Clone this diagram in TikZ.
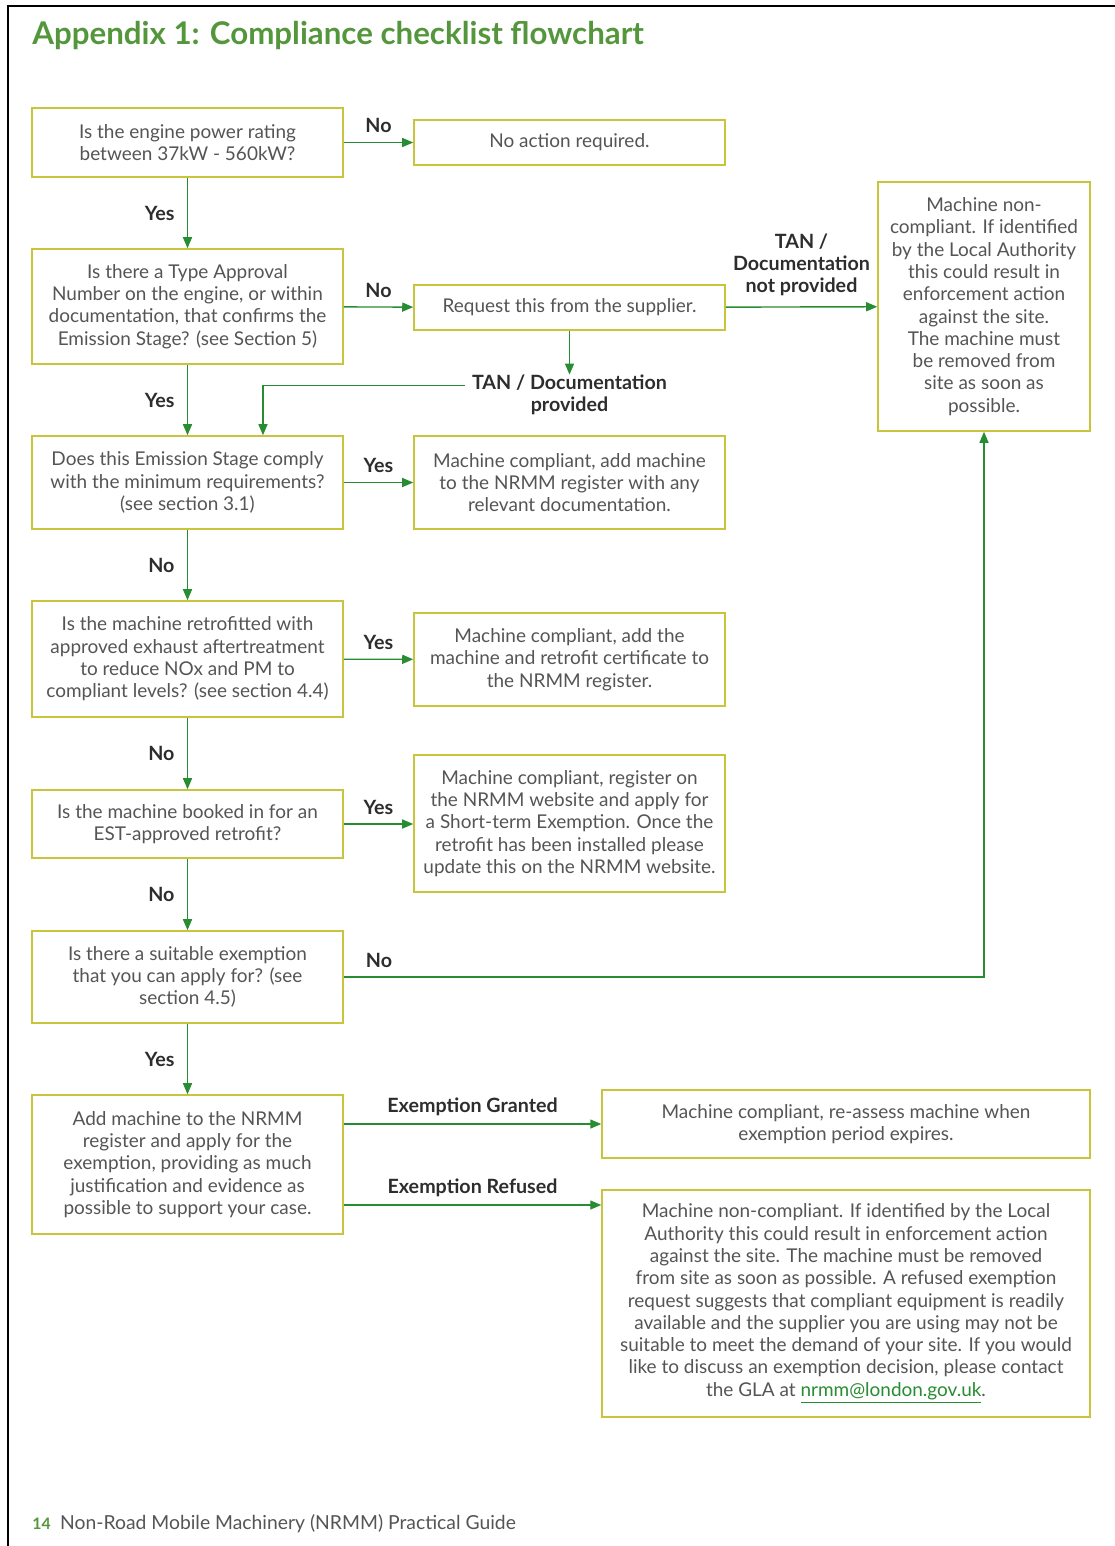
\documentclass[tikz,border=0pt]{standalone}
\usepackage{fontspec}
\setmainfont{Lato}
\usetikzlibrary{arrows.meta,calc,positioning}
\definecolor{titlegreen}{RGB}{84,150,60}
\definecolor{arrowgreen}{RGB}{40,140,50}
\definecolor{boxline}{RGB}{200,196,60}
\definecolor{boxtext}{RGB}{85,85,85}
\definecolor{labeltext}{RGB}{45,45,45}
\newcommand{\boxfont}{\fontsize{10.8}{12.7}\selectfont}

\begin{document}
\begin{tikzpicture}[x=0.02cm,y=-0.02cm,
  every node/.style={inner sep=0pt},
  qbox/.style={draw=boxline,line width=0.9pt,fill=white,align=center,text=boxtext,
    font=\boxfont,minimum width=6.22cm},
  wbox/.style={qbox,minimum width=9.76cm},
  arr/.style={draw=arrowgreen,line width=0.8pt,-{Triangle[length=2.2mm,width=1.8mm]}},
  lbl/.style={font=\fontsize{11.2}{12.6}\selectfont\bfseries,text=labeltext,align=center}]
\useasboundingbox (0,0) rectangle (1115,1546);
% page frame
\draw[line width=1.2pt] (8,1546) -- (8,6) -- (1115,6);
\node[anchor=west,text=titlegreen,font=\fontsize{17.8}{19}\selectfont\bfseries] (title) at (32,35)
  {Appendix 1: Compliance checklist flowchart};

% left column
\node[qbox,minimum height=1.38cm] (power) at (187.5,142.5)
  {Is the engine power rating\\between 37kW - 560kW?};
\node[qbox,minimum height=2.3cm] (tan) at (187.5,306.5)
  {Is there a Type Approval\\Number on the engine, or within\\documentation, that confirms the\\Emission Stage? (see Section 5)};
\node[qbox,minimum height=1.86cm] (stage) at (187.5,482.5)
  {Does this Emission Stage comply\\with the minimum requirements?\\(see section 3.1)};
\node[qbox,minimum height=2.32cm] (retro) at (187.5,659)
  {Is the machine retrofitted with\\approved exhaust aftertreatment\\to reduce NOx and PM to\\compliant levels? (see section 4.4)};
\node[qbox,minimum height=1.36cm] (booked) at (187.5,824)
  {Is the machine booked in for an\\EST-approved retrofit?};
\node[qbox,minimum height=1.84cm] (exempt) at (187.5,977)
  {Is there a suitable exemption\\that you can apply for? (see\\section 4.5)};
\node[qbox,minimum height=2.78cm] (apply) at (187.5,1164.5)
  {Add machine to the NRMM\\register and apply for the\\exemption, providing as much\\justification and evidence as\\possible to support your case.};

% middle column
\node[qbox,minimum height=0.9cm] (noaction) at (569.5,142.5) {No action required.};
\node[qbox,minimum height=0.9cm] (request) at (569.5,307.5) {Request this from the supplier.};
\node[qbox,minimum height=1.86cm] (ok1) at (569.5,482.5)
  {Machine compliant, add machine\\to the NRMM register with any\\relevant documentation.};
\node[qbox,minimum height=1.86cm] (ok2) at (569.5,659.5)
  {Machine compliant, add the\\machine and retrofit certificate to\\the NRMM register.};
\node[qbox,minimum height=2.74cm] (ok3) at (569.5,823.5)
  {Machine compliant, register on\\the NRMM website and apply for\\a Short-term Exemption. Once the\\retrofit has been installed please\\update this on the NRMM website.};

% right column
\node[qbox,minimum width=4.24cm,minimum height=4.98cm] (noncomp) at (984,306.5)
  {Machine non-\\compliant. If identified\\by the Local Authority\\this could result in\\enforcement action\\against the site.\\The machine must\\be removed from\\site as soon as\\possible.};
\node[wbox,minimum height=1.36cm] (granted) at (846,1124)
  {Machine compliant, re-assess machine when\\exemption period expires.};
\node[wbox,minimum height=4.54cm] (refused) at (846,1303.5)
  {Machine non-compliant. If identified by the Local\\Authority this could result in enforcement action\\against the site. The machine must be removed\\from site as soon as possible. A refused exemption\\request suggests that compliant equipment is readily\\available and the supplier you are using may not be\\suitable to meet the demand of your site. If you would\\like to discuss an exemption decision, please contact\\the GLA at \textcolor{arrowgreen}{\underline{nrmm@london.gov.uk}}.};

\node[lbl] (tanok) at (569.5,395) {TAN / Documentation\\provided};

% connectors
\draw[arr] (power) -- node[lbl,above=5pt] {No} (noaction);
\draw[arr] (power) -- node[lbl,left=7pt] {Yes} (tan);
\draw[arr] (tan) -- node[lbl,above=5pt] {No} (request);
\draw[arr] (request) -- node[lbl,above=6pt] {TAN /\\Documentation\\not provided} (noncomp);
\draw[arr] (request.south) -- (request.south |- tanok.north);
\draw[arr] ([xshift=-4pt,yshift=5.5pt]tanok.west) -| ([xshift=1.51cm]stage.north);
\draw[arr] (tan) -- node[lbl,left=7pt] {Yes} (stage);
\draw[arr] (stage) -- node[lbl,above=5pt] {Yes} (ok1);
\draw[arr] (stage) -- node[lbl,left=7pt] {No} (retro);
\draw[arr] (retro) -- node[lbl,above=5pt] {Yes} (ok2);
\draw[arr] (retro) -- node[lbl,left=7pt] {No} (booked);
\draw[arr] (booked) -- node[lbl,above=5pt] {Yes} (booked -| ok3.west);
\draw[arr] (booked) -- node[lbl,left=7pt] {No} (exempt);
\draw[arr] (exempt.east) -- node[lbl,above=5pt,pos=0.055] {No} (exempt.east -| noncomp.south) -- (noncomp.south);
\draw[arr] (exempt) -- node[lbl,left=7pt] {Yes} (apply);
\draw[arr] ([yshift=0.81cm]apply.east) -- node[lbl,above=4pt] {Exemption Granted} ([yshift=0.81cm]apply.east -| granted.west);
\draw[arr] ([yshift=-0.81cm]apply.east) -- node[lbl,above=4pt] {Exemption Refused} ([yshift=-0.81cm]apply.east -| refused.west);

% footer
\node[anchor=west,text=titlegreen,font=\fontsize{9}{10}\selectfont\bfseries] (pagenum) at (32,1524) {14};
\node[anchor=west,text=boxtext,font=\fontsize{11}{12}\selectfont,right=5pt of pagenum] (guide)
  {Non-Road Mobile Machinery (NRMM) Practical Guide};
\end{tikzpicture}
\end{document}
